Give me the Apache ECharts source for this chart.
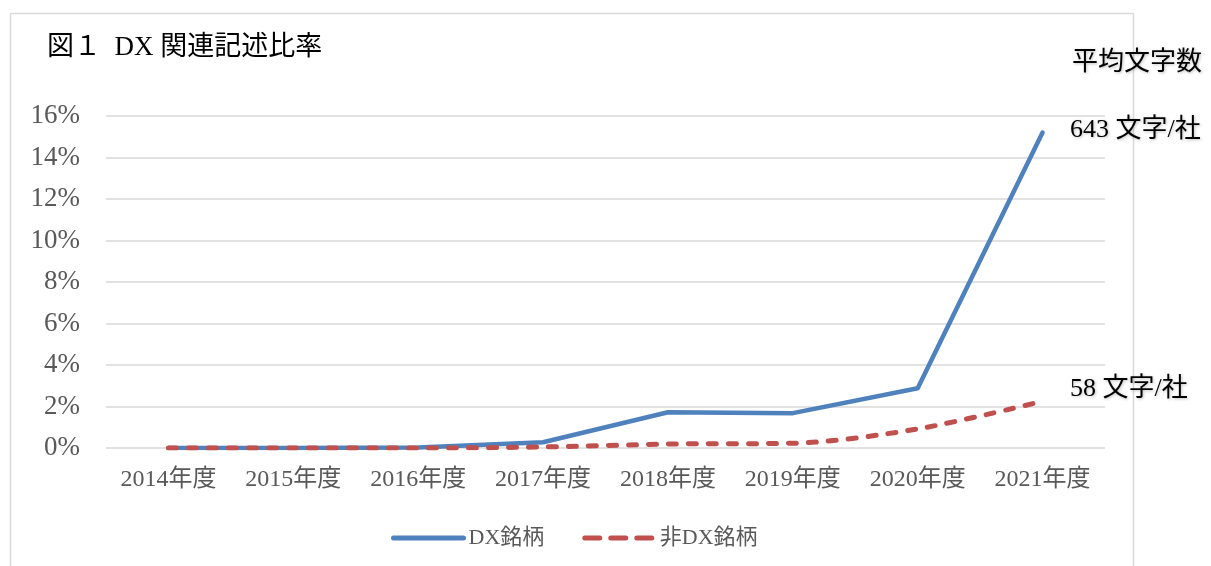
<!DOCTYPE html>
<html><head><meta charset="utf-8">
<script src="https://cdn.jsdelivr.net/npm/echarts@6/dist/echarts.min.js"></script>
<style>html,body{margin:0;padding:0;background:#fff}#c{width:1211px;height:566px}</style>
</head><body><div id="c"></div>
<script>
const categories = ['2014年度','2015年度','2016年度','2017年度','2018年度','2019年度','2020年度','2021年度'];
const dxValues = [0, 0, 0.02, 0.28, 1.72, 1.68, 2.88, 15.2];
const nonDxValues = [0, 0, 0, 0.05, 0.19, 0.23, 0.92, 2.25];
const yTicks = [0, 2, 4, 6, 8, 10, 12, 14, 16];
const seriesNames = ['DX銘柄', '非DX銘柄'];
const titleText = '図１  DX 関連記述比率';
const sideLabels = ['平均文字数', '643 文字/社', '58 文字/社'];

const serif = '"Liberation Serif","Noto Sans CJK JP",serif';
const shadow = { textShadowColor: 'rgba(0,0,0,0.25)', textShadowBlur: 3, textShadowOffsetX: 1, textShadowOffsetY: 1 };
const blue = '#4F81BD', red = '#C0504D';
const chart = echarts.init(document.getElementById('c'));
chart.setOption({
  animation: false,
  backgroundColor: '#fff',
  title: { text: titleText, left: 42, top: 29, textStyle: { fontFamily: serif, fontSize: 27, fontWeight: 'normal', color: '#000' } },
  graphic: [
    { type: 'rect', shape: { x: 10.5, y: 13.5, width: 1123, height: 600 }, style: { fill: 'none', stroke: '#d9d9d9', lineWidth: 1.5 }, silent: true },
    { type: 'text', x: 1072, y: 63, style: Object.assign({ text: sideLabels[0], font: '26px ' + serif, fill: '#000', verticalAlign: 'middle' }, shadow) },
    { type: 'text', x: 1070, y: 130, style: Object.assign({ text: sideLabels[1], font: '26px ' + serif, fill: '#000', verticalAlign: 'middle' }, shadow) },
    { type: 'text', x: 1070, y: 389, style: Object.assign({ text: sideLabels[2], font: '26px ' + serif, fill: '#000', verticalAlign: 'middle' }, shadow) }
  ],
  legend: {
    top: 522, left: 386, itemWidth: 70, itemHeight: 14, itemGap: 38,
    textStyle: { fontFamily: serif, fontSize: 22, color: '#595959' },
    itemStyle: { opacity: 0 },
    data: [
      { name: seriesNames[0], lineStyle: { color: blue, width: 5, type: 'solid', cap: 'round' } },
      { name: seriesNames[1], lineStyle: { color: red, width: 5, type: [15, 11], cap: 'round' } }
    ]
  },
  grid: { left: 106, right: 106, top: 116, bottom: 118, containLabel: false },
  xAxis: {
    type: 'category', data: categories, boundaryGap: true,
    axisLine: { show: false }, axisTick: { show: false },
    axisLabel: { fontFamily: serif, fontSize: 24, color: '#595959', margin: 20 }
  },
  yAxis: {
    type: 'value', min: yTicks[0], max: yTicks[yTicks.length - 1], interval: 2,
    axisLine: { show: false }, axisTick: { show: false },
    axisLabel: { fontFamily: serif, fontSize: 27, color: '#595959', margin: 26, formatter: v => v + '%' },
    splitLine: { lineStyle: { color: '#d9d9d9', width: 1.5 } }
  },
  series: [
    { name: seriesNames[0], type: 'line', data: dxValues, showSymbol: false, symbol: 'none',
      lineStyle: { color: blue, width: 4.5, cap: 'round', join: 'round' }, itemStyle: { color: blue }, z: 2 },
    { name: seriesNames[1], type: 'line', data: nonDxValues, smooth: 0.3, showSymbol: false, symbol: 'none',
      lineStyle: { color: red, width: 5, type: [8, 12], cap: 'round' }, itemStyle: { color: red }, z: 3 }
  ]
});
</script></body></html>
